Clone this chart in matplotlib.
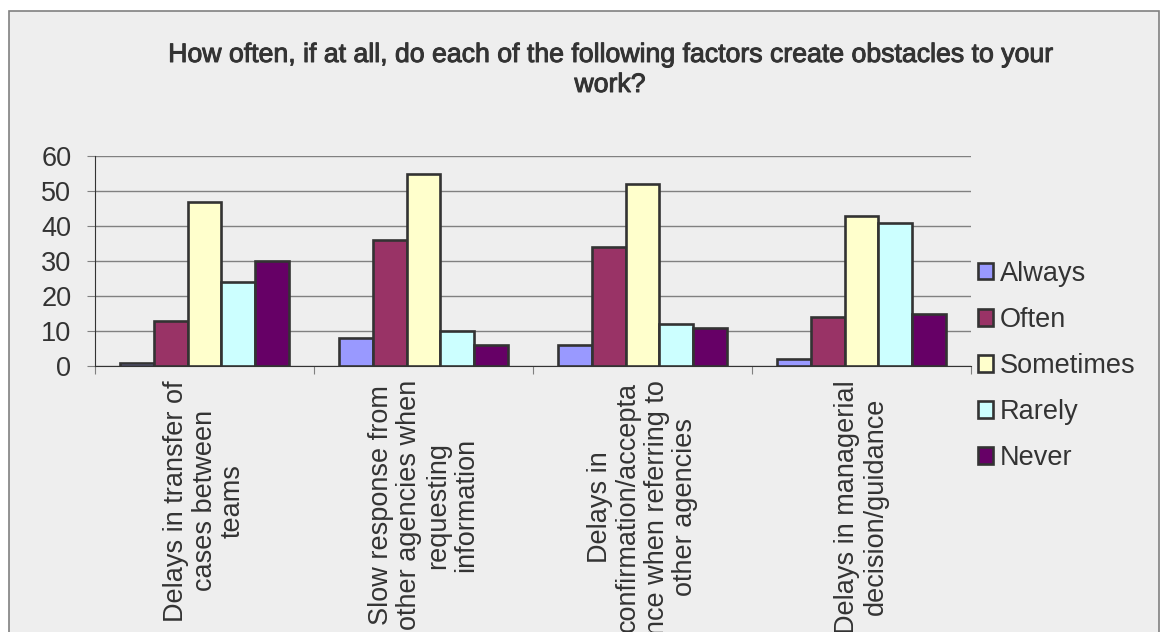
import numpy as np
import matplotlib.pyplot as plt
import matplotlib.patheffects as pe
from matplotlib.patches import Rectangle

categories = [
    "Delays in transfer of\ncases between\nteams",
    "Slow response from\nother agencies when\nrequesting\ninformation",
    "Delays in\nconfirmation/accepta\nnce when referring to\nother agencies",
    "Delays in managerial\ndecision/guidance",
]
series = ["Always", "Often", "Sometimes", "Rarely", "Never"]
always    = [1, 8, 6, 2]
often     = [13, 36, 34, 14]
sometimes = [47, 55, 52, 43]
rarely    = [24, 10, 12, 41]
never     = [30, 6, 11, 15]
colors = ["#9999FF", "#993366", "#FFFFCC", "#CCFFFF", "#660066"]

title = "How often, if at all, do each of the following factors create obstacles to your\nwork?"

plt.rcParams['font.family'] = ['Liberation Sans', 'DejaVu Sans']
txt = '#333333'
fs = 19.5

W, H = 1163, 632
fig = plt.figure(figsize=(W/100, H/100), dpi=100)
fig.patch.set_facecolor('white')

# chart area box
fig.add_artist(Rectangle((9/W, -0.1), 1150/W, (H-11)/H + 0.1, transform=fig.transFigure,
                         facecolor='#EEEEEE', edgecolor='#808080', lw=1.2, zorder=0))

ax = fig.add_axes([95/W, 1-366/H, 876/W, 210/H])
ax.set_facecolor('none')

x = np.arange(len(categories))
w = 0.155
for i, (name, vals) in enumerate(zip(series, [always, often, sometimes, rarely, never])):
    ax.bar(x + (i-2)*w, vals, w, color=colors[i], edgecolor='#333333', lw=1.9,
           label=name, zorder=3)

ax.set_xlim(-0.5, len(categories)-0.5)
ax.set_ylim(0, 60)
ax.set_yticks(range(0, 61, 10))
ax.yaxis.grid(True, color='#808080', lw=1)
ax.set_axisbelow(True)
for s in ['top', 'right']:
    ax.spines[s].set_visible(False)
ax.spines['left'].set_color('#333333')
ax.spines['bottom'].set_color('#333333')

ax.set_xticks(np.arange(len(categories)+1) - 0.5)
ax.set_xticklabels([])
ax.set_xticks(x, minor=True)
ax.set_xticklabels(categories, minor=True, rotation=90, ha='center', va='top',
                   multialignment='center', fontsize=fs, color=txt, linespacing=1.12)
ax.tick_params(axis='x', which='minor', length=0, pad=10)
ax.tick_params(axis='x', which='major', length=6, color='#808080')
ax.tick_params(axis='y', length=6, color='#808080', labelsize=fs, labelcolor=txt, pad=11)

fig.text(610/W, 1-42/H, title, ha='center', va='top', fontsize=19.2, color=txt,
         linespacing=1.2, path_effects=[pe.withStroke(linewidth=0.7, foreground=txt)])

ax.legend(loc='center left', bbox_to_anchor=(978/W, 1-366/H), bbox_transform=fig.transFigure,
          frameon=False, fontsize=fs, handlelength=0.55, handleheight=0.55,
          handletextpad=0.25, labelspacing=0.74, borderpad=0, borderaxespad=0,
          labelcolor=txt)

plt.savefig('out.png', dpi=100)
